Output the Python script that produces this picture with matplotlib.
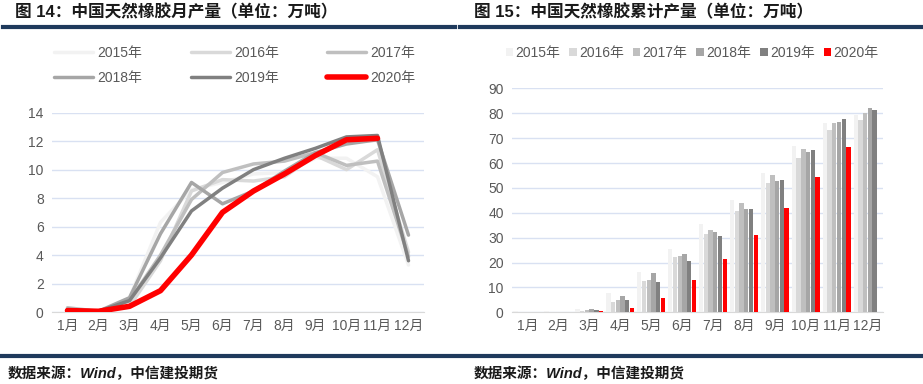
import numpy as np
import matplotlib
matplotlib.use("Agg")
import matplotlib.pyplot as plt
from matplotlib.lines import Line2D

plt.rcParams["font.family"] = ["Liberation Sans", "Noto Sans CJK SC"]

months = ["1月", "2月", "3月", "4月", "5月", "6月", "7月", "8月", "9月", "10月", "11月", "12月"]
years = ["2015年", "2016年", "2017年", "2018年", "2019年", "2020年"]
colors = ["#F2F2F2", "#D9D9D9", "#BFBFBF", "#A6A6A6", "#808080", "#FF0000"]

# monthly output (10k tons)
m2015 = [0.2, 0.05, 1.0, 6.3, 8.6, 9.1, 9.7, 9.8, 10.8, 10.8, 9.5, 3.3]
m2016 = [0.2, 0.05, 0.4, 3.6, 8.5, 9.3, 9.2, 9.5, 11.0, 10.0, 11.4, 4.2]
m2017 = [0.3, 0.05, 0.8, 4.0, 7.9, 9.8, 10.4, 10.6, 11.2, 10.3, 10.6, 3.9]
m2018 = [0.2, 0.05, 1.0, 5.5, 9.1, 7.6, 8.5, 9.9, 11.2, 11.8, 12.1, 5.4]
m2019 = [0.1, 0.05, 0.8, 3.8, 7.1, 8.7, 10.0, 10.8, 11.5, 12.3, 12.4, 3.6]
m2020 = [0.1, 0.05, 0.4, 1.5, 4.0, 7.0, 8.5, 9.7, 11.0, 12.1, 12.2, None]

# cumulative output (10k tons)
c2015 = [0.5, 0.5, 1.3, 7.8, 16.4, 25.4, 35.3, 45.0, 55.8, 66.8, 76.2, 79.5]
c2016 = [0.2, 0.3, 0.6, 4.2, 12.7, 22.2, 31.3, 40.8, 51.9, 62.0, 73.2, 77.4]
c2017 = [0.1, 0.2, 1.0, 5.0, 12.9, 22.7, 33.0, 43.8, 55.2, 65.5, 76.1, 80.0]
c2018 = [0.1, 0.2, 1.2, 6.7, 15.8, 23.4, 32.1, 41.5, 52.6, 64.5, 76.6, 82.0]
c2019 = [0.1, 0.2, 1.0, 4.8, 12.0, 20.5, 30.6, 41.5, 53.0, 65.3, 77.7, 81.4]
c2020 = [0.1, 0.2, 0.5, 1.9, 5.9, 12.9, 21.4, 31.1, 42.1, 54.4, 66.5, 0]

monthly = [m2015, m2016, m2017, m2018, m2019, m2020]
cumul = [c2015, c2016, c2017, c2018, c2019, c2020]

W, H = 923, 384
fig = plt.figure(figsize=(W / 100, H / 100), dpi=100)
navy = "#1F3A5C"
txt = "#595959"
grid = "#D9E1F2"


def px(x0, y0, x1, y1):
    return [x0 / W, 1 - y1 / H, (x1 - x0) / W, (y1 - y0) / H]


def style(ax, ymax, step):
    ax.set_xlim(-0.5, 11.5)
    ax.set_ylim(0, ymax)
    ax.set_yticks(np.arange(0, ymax + 0.1, step))
    ax.set_xticks(range(12))
    ax.set_xticklabels(months)
    for s in ["top", "right", "left"]:
        ax.spines[s].set_visible(False)
    ax.spines["bottom"].set_color("#D9D9D9")
    ax.grid(axis="y", color=grid, lw=1)
    ax.set_axisbelow(True)
    ax.tick_params(length=0, labelsize=10, colors=txt, pad=6)
    ax.tick_params(axis="x", pad=5)


# left: monthly lines
ax1 = fig.add_axes(px(52, 112.7, 424, 312))
x = np.arange(12)
for i, (vals, c, lab) in enumerate(zip(monthly, colors, years)):
    v = np.array([np.nan if a is None else a for a in vals], dtype=float)
    ax1.plot(x, v, color=c, lw=4 if i == 5 else 2.5, label=lab, zorder=3 + i,
             solid_capstyle="round")
style(ax1, 14, 2)
h, l = ax1.get_legend_handles_labels()
order = [0, 3, 1, 4, 2, 5]
fig.legend([h[k] for k in order], [l[k] for k in order], ncol=3, loc="center",
           bbox_to_anchor=(235 / W, 1 - 65.5 / H), frameon=False, fontsize=10,
           handlelength=2.8, handletextpad=0.3, columnspacing=3.5,
           labelspacing=0.75, labelcolor=txt)

# right: cumulative bars
ax2 = fig.add_axes(px(512, 88.4, 883, 312.3))
bw = 0.14
for i, (vals, c, lab) in enumerate(zip(cumul, colors, years)):
    ax2.bar(x + (i - 2.5) * 0.153, vals, width=bw, color=c, label=lab, zorder=3)
style(ax2, 90, 10)
fig.legend(*ax2.get_legend_handles_labels(), ncol=6, loc="center",
           bbox_to_anchor=(692 / W, 1 - 53 / H), frameon=False, fontsize=10,
           handlelength=0.55, handleheight=0.55, handletextpad=0.15,
           columnspacing=0.65, labelcolor=txt)

# titles and rules
fig.text(15 / W, 1 - 12 / H, "图 14：中国天然橡胶月产量（单位：万吨）", fontsize=12,
         fontweight="bold", va="center", color="#1a1a1a")
fig.text(474 / W, 1 - 12 / H, "图 15：中国天然橡胶累计产量（单位：万吨）", fontsize=12,
         fontweight="bold", va="center", color="#1a1a1a")
fig.add_artist(Line2D([3 / W, 455 / W], [1 - 27 / H] * 2, color=navy, lw=3))
fig.add_artist(Line2D([460 / W, 921 / W], [1 - 27 / H] * 2, color=navy, lw=3))
fig.add_artist(Line2D([2 / W, 921 / W], [1 - 356 / H] * 2, color=navy, lw=3))
fig.text(8 / W, 1 - 374 / H, "数据来源：Wind，中信建投期货", fontsize=10.5,
         fontweight="bold", style="italic", va="center", color="#1a1a1a")
fig.text(474 / W, 1 - 374 / H, "数据来源：Wind，中信建投期货", fontsize=10.5,
         fontweight="bold", style="italic", va="center", color="#1a1a1a")

fig.savefig("out.png", dpi=100)
